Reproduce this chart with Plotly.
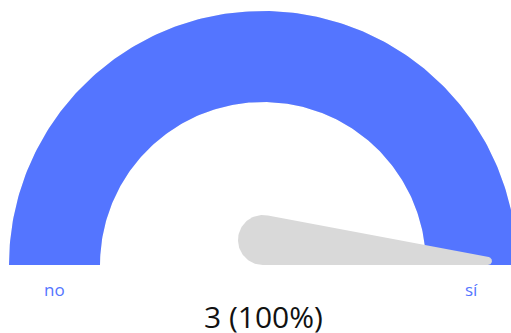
import numpy as np
import plotly.graph_objects as go

# ---- data ----
categories = ["no", "sí"]
counts = [0, 3]
selected = "sí"

# ---- derived ----
total = sum(counts)
value = counts[categories.index(selected)]
frac = value / total if total else 0
center_label = f"{value} ({frac*100:.0f}%)"

W, H = 511, 333
CX, CY = 263, 265          # pixel position of gauge centre
R_PX = 254                 # outer radius in px
unit = 1.0 / R_PX
R_OUT = 1.0
R_IN = 163 / R_PX

BLUE = "#5475ff"
GREY = "#d9d9d9"

x_range = [-CX * unit, (W - CX) * unit]
y_range = [-(H - CY) * unit, CY * unit]


def arc_polygon(a0, a1, r_in, r_out, n=200):
    t = np.linspace(a0, a1, n)
    xo = r_out * np.cos(t)
    yo = r_out * np.sin(t)
    xi = r_in * np.cos(t[::-1])
    yi = r_in * np.sin(t[::-1])
    return np.concatenate([xo, xi, xo[:1]]), np.concatenate([yo, yi, yo[:1]])


def hull(points):
    pts = sorted(map(tuple, points))
    def cross(o, a, b):
        return (a[0]-o[0])*(b[1]-o[1]) - (a[1]-o[1])*(b[0]-o[0])
    lower, upper = [], []
    for p in pts:
        while len(lower) >= 2 and cross(lower[-2], lower[-1], p) <= 0:
            lower.pop()
        lower.append(p)
    for p in reversed(pts):
        while len(upper) >= 2 and cross(upper[-2], upper[-1], p) <= 0:
            upper.pop()
        upper.append(p)
    h = lower[:-1] + upper[:-1]
    h.append(h[0])
    return np.array(h)


fig = go.Figure()

# background track (covered fully at 100%)
bx, by = arc_polygon(np.pi, 0, R_IN, R_OUT)
fig.add_trace(go.Scatter(x=bx, y=by, fill="toself", fillcolor="#e6e6e6",
                         line=dict(width=0), mode="lines", hoverinfo="skip"))
# value arc
va_end = np.pi - np.pi * frac
vx, vy = arc_polygon(np.pi, va_end, R_IN, R_OUT)
fig.add_trace(go.Scatter(x=vx, y=vy, fill="toself", fillcolor=BLUE,
                         line=dict(width=0), mode="lines", hoverinfo="skip"))

# needle
theta = np.pi - np.pi * frac
rb = 25 * unit
rt = 4 * unit
L = 225 * unit
base_c = np.array([0.0, rb])
tip_c = np.array([L * np.cos(theta), L * np.sin(theta) + rt])
ang = np.linspace(0, 2 * np.pi, 120)
pts = np.vstack([
    np.column_stack([base_c[0] + rb * np.cos(ang), base_c[1] + rb * np.sin(ang)]),
    np.column_stack([tip_c[0] + rt * np.cos(ang), tip_c[1] + rt * np.sin(ang)]),
])
nh = hull(pts)
fig.add_trace(go.Scatter(x=nh[:, 0], y=nh[:, 1], fill="toself", fillcolor=GREY,
                         line=dict(width=0), mode="lines", hoverinfo="skip"))

# labels
mid = (R_IN + R_OUT) / 2
fig.add_annotation(x=-mid, y=-24 * unit, text=categories[0], showarrow=False,
                   font=dict(family="Open Sans", size=17, color=BLUE),
                   xanchor="center", yanchor="middle")
fig.add_annotation(x=mid, y=-24 * unit, text=categories[1], showarrow=False,
                   font=dict(family="Open Sans", size=17, color=BLUE),
                   xanchor="center", yanchor="middle")
fig.add_annotation(x=0, y=-51 * unit, text=center_label, showarrow=False,
                   font=dict(family="Open Sans", size=30, color="#111111"),
                   xanchor="center", yanchor="middle")

fig.update_layout(
    width=W, height=H, margin=dict(l=0, r=0, t=0, b=0),
    paper_bgcolor="white", plot_bgcolor="white", showlegend=False,
    xaxis=dict(range=x_range, visible=False, fixedrange=True),
    yaxis=dict(range=y_range, visible=False, fixedrange=True),
)

fig.write_html("out.html")
